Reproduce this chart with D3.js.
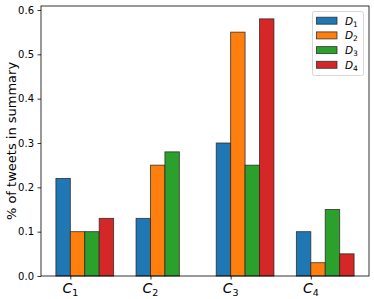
<!DOCTYPE html>
<html><head><meta charset="utf-8">
<script src="https://cdn.jsdelivr.net/npm/d3@7"></script>
<style>body{margin:0;background:#fff}svg{display:block}</style>
</head><body>
<svg id="c" width="374" height="299"></svg>
<script>
const categories = ["1","2","3","4"];          // C subscripts
const seriesNames = ["1","2","3","4"];         // D subscripts
const D1 = [0.22, 0.13, 0.30, 0.10];
const D2 = [0.10, 0.25, 0.55, 0.03];
const D3 = [0.10, 0.28, 0.25, 0.15];
const D4 = [0.13, 0.00, 0.58, 0.05];
const series = [D1, D2, D3, D4];
const colors = ["#1f77b4", "#ff7f0e", "#2ca02c", "#d62728"];
const yTicks = [0.0, 0.1, 0.2, 0.3, 0.4, 0.5, 0.6];

const svg = d3.select("#c");
const L = 41, R = 369, T = 6, B = 276;
const barW = 0.18;
const x = d3.scaleLinear().domain([-0.366, 3.726]).range([L, R]);
const y = d3.scaleLinear().domain([0, 0.609]).range([B, T]);

// bars
series.forEach((vals, s) => {
  svg.append("g").selectAll("rect").data(vals).join("rect")
    .attr("x", (d, i) => x(i + (s - 1) * barW))
    .attr("width", (d, i) => x(i + s * barW) - x(i + (s - 1) * barW))
    .attr("y", d => y(d))
    .attr("height", d => y(0) - y(d))
    .attr("fill", colors[s])
    .attr("stroke", "#222")
    .attr("stroke-opacity", 0.8)
    .attr("stroke-width", 0.9);
});

// frame
svg.append("rect").attr("x", L).attr("y", T).attr("width", R - L).attr("height", B - T)
  .attr("fill", "none").attr("stroke", "#000").attr("stroke-width", 0.8);

// y axis
const ya = svg.append("g").attr("transform", `translate(${L},0)`)
  .call(d3.axisLeft(y).tickValues(yTicks).tickFormat(d3.format(".1f")).tickSize(3.5).tickPadding(3.5));
ya.select(".domain").remove();
ya.selectAll("line").attr("stroke", "#000").attr("stroke-width", 0.8);
ya.selectAll("text").attr("font-family", "DejaVu Sans").attr("font-size", 10).attr("fill", "#000");

// x axis
const xa = svg.append("g").attr("transform", `translate(0,${B})`)
  .call(d3.axisBottom(x).tickValues(categories.map((c, i) => i)).tickFormat("").tickSize(3.5));
xa.select(".domain").remove();
xa.selectAll("line").attr("stroke", "#000").attr("stroke-width", 0.8);
categories.forEach((c, i) => {
  const t = svg.append("text").attr("x", x(i)).attr("y", B + 17)
    .attr("text-anchor", "middle").attr("font-family", "DejaVu Sans").attr("fill", "#000");
  t.append("tspan").attr("font-style", "italic").attr("font-size", 14).text("C");
  t.append("tspan").attr("font-size", 9.5).attr("dy", 2.5).text(c);
});

// y label
svg.append("text").attr("transform", `translate(16,${(T + B) / 2}) rotate(-90)`)
  .attr("text-anchor", "middle").attr("font-family", "DejaVu Sans").attr("font-size", 13)
  .attr("fill", "#000").text("% of tweets in summary");

// legend
const lg = svg.append("g");
lg.append("rect").attr("x", 312.5).attr("y", 11.5).attr("width", 51).attr("height", 64).attr("rx", 2)
  .attr("fill", "#fff").attr("fill-opacity", 0.8).attr("stroke", "#ccc").attr("stroke-width", 0.8);
seriesNames.forEach((n, s) => {
  const cy = 20.7 + s * 14.7;
  lg.append("rect").attr("x", 316.5).attr("y", cy - 3.5).attr("width", 20.5).attr("height", 7)
    .attr("fill", colors[s]).attr("stroke", "#222").attr("stroke-opacity", 0.8).attr("stroke-width", 0.9);
  const t = lg.append("text").attr("x", 345).attr("y", cy + 3.8)
    .attr("font-family", "DejaVu Sans").attr("fill", "#000");
  t.append("tspan").attr("font-style", "italic").attr("font-size", 10.5).text("D");
  t.append("tspan").attr("font-size", 7.5).attr("dy", 2).text(n);
});
</script>
</body></html>
